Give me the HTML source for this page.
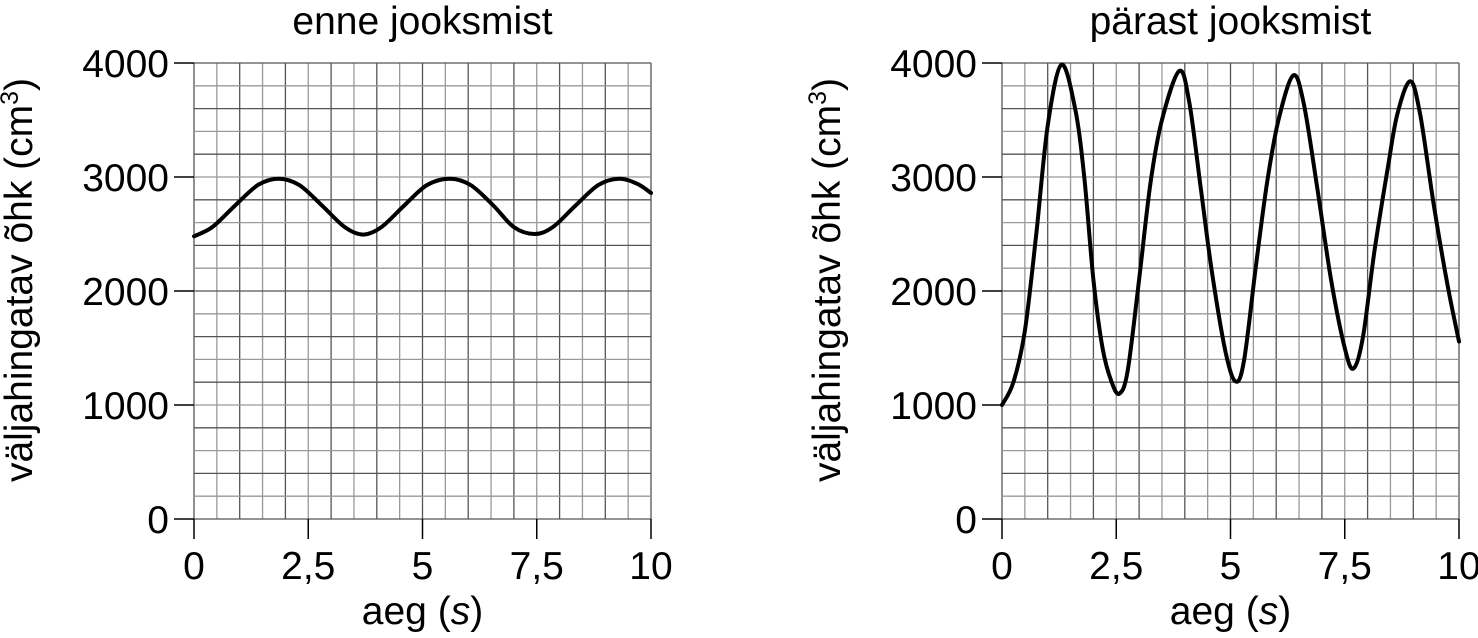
<!DOCTYPE html>
<html><head><meta charset="utf-8"><style>
html,body{margin:0;padding:0;background:#fff;}
svg{display:block;font-family:"Liberation Sans",sans-serif;}
</style></head><body>
<svg id="chart" width="1478" height="638" viewBox="0 0 1478 638" xmlns="http://www.w3.org/2000/svg"></svg>
<script>
const xTicks = [0, 2.5, 5, 7.5, 10];
const xTickLabels = ["0", "2,5", "5", "7,5", "10"];
const yTicks = [0, 1000, 2000, 3000, 4000];
const yTickLabels = ["0", "1000", "2000", "3000", "4000"];
const beforeTimes = [0,0.4,0.9,1.4,1.85,2.3,2.8,3.3,3.7,4.1,4.6,5.1,5.6,6.05,6.55,7.0,7.45,7.85,8.35,8.85,9.3,9.7,10];
const beforeVolumes = [2480,2560,2750,2930,2985,2930,2750,2560,2495,2560,2750,2930,2985,2930,2750,2560,2500,2560,2750,2930,2985,2940,2860];
const afterTimes = [0,0.25,0.5,0.75,1.0,1.3,1.6,1.8,2.0,2.2,2.4,2.57,2.75,3.0,3.25,3.5,3.88,4.1,4.35,4.6,4.9,5.12,5.3,5.55,5.8,6.05,6.37,6.6,6.9,7.2,7.5,7.69,7.9,8.15,8.45,8.65,8.93,9.15,9.45,9.75,10];
const afterVolumes = [1000,1200,1650,2500,3450,3985,3600,3000,2100,1500,1200,1100,1300,2100,2950,3500,3930,3650,2900,2150,1450,1205,1400,2200,2950,3500,3890,3650,2900,2100,1500,1320,1600,2350,3100,3550,3840,3550,2750,2050,1557];

const NS = "http://www.w3.org/2000/svg";
const svg = document.getElementById('chart');
function mk(tag, attrs, parent){const e=document.createElementNS(NS,tag);for(const k in attrs)e.setAttribute(k,attrs[k]);(parent||svg).appendChild(e);return e;}

function drawPanel(key, x0, x1, title, times, vols){
  const yTop=63, yBot=519;
  const sx=t=>x0+(t/10)*(x1-x0);
  const sy=v=>yBot-(v/4000)*(yBot-yTop);
  const g=mk('g',{});
  
  
  const grid=mk('g',{},g);
  
  
  for(let i=0;i<=20;i++){
    const x=sx(i*0.5);
    mk('line',{x1:x,y1:yTop,x2:x,y2:yBot,stroke:i%2?'#999':'#555','stroke-width':1.3},grid);
  }
  for(let i=0;i<=20;i++){
    const y=sy(i*200);
    mk('line',{x1:x0,y1:y,x2:x1,y2:y,stroke:i%2?'#999':'#555','stroke-width':1.3},grid);
  }
  yTicks.forEach((v,i)=>{
    const y=sy(v);
    const tk=mk('line',{x1:x0-20,y1:y,x2:x0,y2:y,stroke:'#000','stroke-width':1.5},g);
    
    
    const t=mk('text',{x:x0-25,y:y+14,'text-anchor':'end','font-size':39,fill:'#000'},g);
    t.textContent=yTickLabels[i];
    
    
  });
  xTicks.forEach((v,i)=>{
    const x=sx(v);
    const tk=mk('line',{x1:x,y1:yBot,x2:x,y2:yBot+20,stroke:'#000','stroke-width':1.5},g);
    
    
    const t=mk('text',{x:x,y:yBot+60,'text-anchor':'middle','font-size':39,fill:'#000'},g);
    t.textContent=xTickLabels[i];
    
    
  });
  const tt=mk('text',{x:(x0+x1)/2,y:34,'text-anchor':'middle','font-size':39,fill:'#000'},g);
  tt.textContent=title;
  
  
  const xt=mk('text',{x:(x0+x1)/2,y:624,'text-anchor':'middle','font-size':39,fill:'#000'},g);
  xt.innerHTML='aeg (<tspan font-style="italic">s</tspan>)';
  
  
  const yx=x0-162, yy=280;
  const yt=mk('text',{x:yx,y:yy,'text-anchor':'middle','font-size':39,fill:'#000',transform:`rotate(-90 ${yx} ${yy})`},g);
  yt.innerHTML='väljahingatav õhk (cm<tspan font-size="25" dy="-14">3</tspan><tspan dy="14">)</tspan>';
  
  
  const P=times.map((t,i)=>[sx(t),sy(vols[i])]);
  let d=`M${P[0][0]},${P[0][1]}`;
  for(let i=0;i<P.length-1;i++){
    const p0=P[Math.max(0,i-1)],p1=P[i],p2=P[i+1],p3=P[Math.min(P.length-1,i+2)];
    const c1=[p1[0]+(p2[0]-p0[0])/6,p1[1]+(p2[1]-p0[1])/6];
    const c2=[p2[0]-(p3[0]-p1[0])/6,p2[1]-(p3[1]-p1[1])/6];
    d+=` C${c1[0]},${c1[1]} ${c2[0]},${c2[1]} ${p2[0]},${p2[1]}`;
  }
  const line=mk('path',{d:d,fill:'none',stroke:'#000','stroke-width':4,'stroke-linecap':'round','stroke-linejoin':'round'},g);
  
  
}
drawPanel('before-run',194,651,'enne jooksmist',beforeTimes,beforeVolumes);
drawPanel('after-run',1002,1459,'pärast jooksmist',afterTimes,afterVolumes);
</script>
</body></html>
